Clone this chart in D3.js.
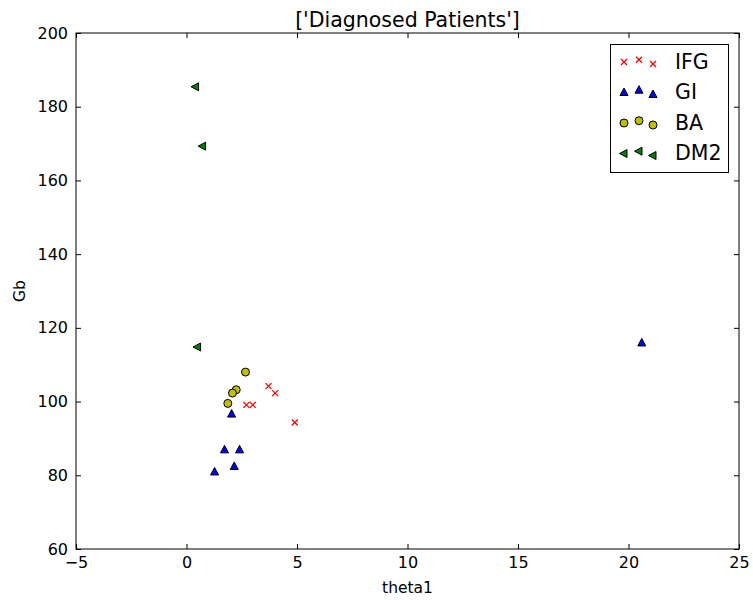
<!DOCTYPE html>
<html>
<head>
<meta charset="utf-8">
<script src="https://cdn.jsdelivr.net/npm/d3@7"></script>
<style>
  body { margin: 0; background: #fff; }
  text { font-family: "DejaVu Sans", sans-serif; fill: #000; }
</style>
</head>
<body>
<svg id="chart" width="753" height="600"></svg>
<script>
// data
let ifgX = [3.71, 4.01, 2.71, 3.0, 4.9]
let ifgY = [104.2, 102.3, 99.1, 99.1, 94.3]
let giX = [20.6, 2.04, 1.72, 2.4, 2.16, 1.27]
let giY = [115.9, 96.6, 86.9, 86.9, 82.4, 80.9]
let baX = [2.67, 2.25, 2.08, 1.87]
let baY = [108.0, 103.2, 102.3, 99.5]
let dm2X = [0.41, 0.73, 0.5]
let dm2Y = [185.4, 169.3, 114.8]
let xTicks = [-5, 0, 5, 10, 15, 20, 25]
let yTicks = [60, 80, 100, 120, 140, 160, 180, 200]
let seriesNames = ['IFG', 'GI', 'BA', 'DM2']

function main() {
    let svg = d3.select('#chart'),
        margin = {top: 33, bottom: 51, left: 76, right: 14},
        width = 753 - margin.left - margin.right,
        height = 600 - margin.top - margin.bottom

    let xScale = d3.scaleLinear().domain([-5, 25]).range([margin.left, margin.left + width])
    let yScale = d3.scaleLinear().domain([60, 200]).range([margin.top + height, margin.top])

    let series = [
        {name: 'IFG', xs: ifgX, ys: ifgY, shape: 'x', fill: '#ff0000', stroke: '#ff0000'},
        {name: 'GI', xs: giX, ys: giY, shape: 'up', fill: '#0000ff', stroke: '#000'},
        {name: 'BA', xs: baX, ys: baY, shape: 'circle', fill: '#bfbf00', stroke: '#000'},
        {name: 'DM2', xs: dm2X, ys: dm2Y, shape: 'left', fill: '#008000', stroke: '#000'}
    ]

    function markerPath(shape) {
        if (shape === 'x') return 'M-3,-3L3,3M-3,3L3,-3'
        if (shape === 'up') return 'M0,-4.5L4,3L-4,3Z'
        if (shape === 'left') return 'M-4.5,0L3,-4L3,4Z'
        return d3.symbol().type(d3.symbolCircle).size(Math.PI * 4 * 4)()
    }

    function drawMarker(g, s, x, y) {
        g.append('path')
            .attr('d', markerPath(s.shape))
            .attr('transform', 'translate(' + x + ',' + y + ')')
            .attr('fill', s.shape === 'x' ? 'none' : s.fill)
            .attr('stroke', s.stroke)
            .attr('stroke-width', s.shape === 'x' ? 1.3 : 1)
    }

    // title
    svg.append('text')
        .attr('x', margin.left + width / 2)
        .attr('y', 27)
        .attr('text-anchor', 'middle')
        .attr('font-size', 20.5)
        .text("['Diagnosed Patients']")

    // points
    let pts = svg.append('g')
    series.forEach(s => {
        s.xs.forEach((x, i) => drawMarker(pts, s, xScale(x), yScale(s.ys[i])))
    })

    // frame
    svg.append('rect')
        .attr('x', margin.left).attr('y', margin.top)
        .attr('width', width).attr('height', height)
        .attr('fill', 'none').attr('stroke', '#000').attr('stroke-width', 1)

    // axes, ticks pointing inside like matplotlib classic
    let xAxis = svg.append('g')
        .attr('transform', 'translate(0,' + (margin.top + height) + ')')
        .call(d3.axisBottom(xScale).tickValues(xTicks).tickSize(-5).tickPadding(8).tickFormat(d => d < 0 ? '\u2212' + Math.abs(d) : d))
    let xTop = svg.append('g')
        .attr('transform', 'translate(0,' + margin.top + ')')
        .call(d3.axisTop(xScale).tickValues(xTicks).tickSize(-5).tickFormat(''))
    let yAxis = svg.append('g')
        .attr('transform', 'translate(' + margin.left + ',0)')
        .call(d3.axisLeft(yScale).tickValues(yTicks).tickSize(-5).tickPadding(8))
    let yRight = svg.append('g')
        .attr('transform', 'translate(' + (margin.left + width) + ',0)')
        .call(d3.axisRight(yScale).tickValues(yTicks).tickSize(-5).tickFormat(''))
    ;[xAxis, xTop, yAxis, yRight].forEach(a => {
        a.select('.domain').remove()
        a.selectAll('text').attr('font-size', 16).attr('font-family', 'DejaVu Sans, sans-serif')
        a.selectAll('line').attr('stroke', '#000')
    })

    // axis labels
    svg.append('text')
        .attr('x', margin.left + width / 2)
        .attr('y', 593)
        .attr('text-anchor', 'middle')
        .attr('font-size', 15.5)
        .text('theta1')
    svg.append('text')
        .attr('transform', 'translate(25,' + (margin.top + height / 2) + ') rotate(-90)')
        .attr('text-anchor', 'middle')
        .attr('font-size', 15.5)
        .text('Gb')

    // legend
    let legend = svg.append('g')
    legend.append('rect')
        .attr('x', 610.5).attr('y', 44.5)
        .attr('width', 118).attr('height', 128)
        .attr('fill', '#fff').attr('stroke', '#000').attr('stroke-width', 1)
    let offsets = [0.5, -1.8, 2.5]
    let markerXs = [624, 639, 653]
    series.forEach((s, i) => {
        let cy = 61.5 + i * 30.5
        markerXs.forEach((mx, j) => drawMarker(legend, s, mx, cy + offsets[j]))
        legend.append('text')
            .attr('x', 675)
            .attr('y', cy + 7)
            .attr('font-size', 20.5)
            .text(seriesNames[i])
    })
}

main()
</script>
</body>
</html>
